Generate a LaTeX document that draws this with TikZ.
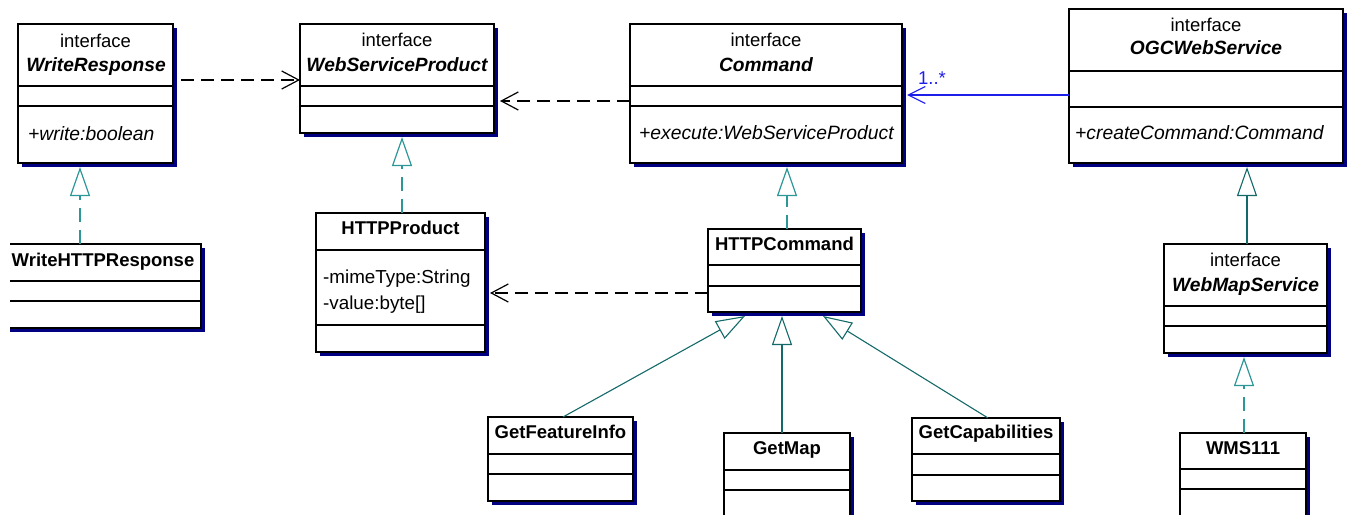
\documentclass[tikz,border=0pt]{standalone}
\usepackage{fontspec}
\setmainfont{Liberation Sans}
\usetikzlibrary{arrows.meta,shadows}

\definecolor{umlnavy}{RGB}{0,0,128}
\definecolor{realteal}{RGB}{45,150,150}
\definecolor{genteal}{RGB}{20,105,105}
\definecolor{assocblue}{RGB}{30,30,235}

\tikzstyle{class_box}=[rectangle,draw=black,fill=white,line width=1.3pt,inner sep=0pt,outer sep=0pt,drop shadow={shadow xshift=4pt,shadow yshift=-4pt,fill=umlnavy,opacity=1}]
\tikzstyle{divider}=[draw=black,line width=1.3pt]
\tikzstyle{stereo_text}=[inner sep=0pt,anchor=base,font=\fontsize{18.5}{22}\selectfont]
\tikzstyle{iface_name}=[inner sep=0pt,anchor=base,font=\fontsize{19.2}{22}\selectfont\bfseries\itshape]
\tikzstyle{class_name}=[inner sep=0pt,anchor=base,font=\fontsize{18.5}{22}\selectfont\bfseries]
\tikzstyle{member_text}=[inner sep=0pt,anchor=base west,font=\fontsize{18.8}{22}\selectfont]
\tikzstyle{op_text}=[inner sep=0pt,anchor=base west,font=\fontsize{19.3}{22}\selectfont\itshape]
\tikzstyle{mult_text}=[inner sep=0pt,anchor=base,text=assocblue,font=\fontsize{18.5}{22}\selectfont]
\tikzstyle{dependency}=[line width=1.2pt,dash pattern=on 13pt off 7pt,-{Straight Barb[length=17pt,width=18pt]}]
\tikzstyle{association}=[line width=1.2pt,draw=assocblue,-{Straight Barb[length=17pt,width=17pt]}]
\tikzstyle{realization}=[line width=1.2pt,draw=realteal,dash pattern=on 14pt off 8pt,-{Triangle[open,length=29pt,width=20pt]}]
\tikzstyle{generalization}=[line width=1.1pt,draw=genteal,-{Triangle[open,length=29pt,width=20pt]}]

\begin{document}
\begin{tikzpicture}[x=1pt,y=-1pt]

\useasboundingbox (0,0) rectangle (1348,514);
\clip (0,0) rectangle (1348,514);

% interfaces
\node [class_box,minimum width=155pt,minimum height=139pt] (writeresponse) at (95.5,93.5) {};
\node [class_box,minimum width=194pt,minimum height=109pt] (webserviceproduct) at (397,78.5) {};
\node [class_box,minimum width=272pt,minimum height=139pt] (command) at (766,93.5) {};
\node [class_box,minimum width=274pt,minimum height=154pt] (ogcwebservice) at (1206,86) {};
\node [class_box,minimum width=163pt,minimum height=109pt] (webmapservice) at (1245.5,298.5) {};

% classes
\node [class_box,minimum width=169pt,minimum height=139pt] (httpproduct) at (400.5,282.5) {};
\node [class_box,minimum width=153pt,minimum height=83pt] (httpcommand) at (784.5,270.5) {};
\node [class_box,minimum width=145pt,minimum height=84pt] (getfeatureinfo) at (560.5,459) {};
\node [class_box,minimum width=126pt,minimum height=107pt] (getmap) at (787,486.5) {};
\node [class_box,minimum width=148pt,minimum height=83pt] (getcapabilities) at (986,459.5) {};
\node [class_box,minimum width=126pt,minimum height=107pt] (wms111) at (1243,486.5) {};

\begin{scope}
\clip (10,230) rectangle (215,340);
\node [class_box,minimum width=198pt,minimum height=84pt] (writehttpresponse) at (102,286) {};
\draw [divider] (writehttpresponse.west |- 0,281) -- (writehttpresponse.east |- 0,281);
\draw [divider] (writehttpresponse.west |- 0,301) -- (writehttpresponse.east |- 0,301);
\end{scope}

% compartments
\draw [divider] (writeresponse.west |- 0,86) -- (writeresponse.east |- 0,86);
\draw [divider] (writeresponse.west |- 0,106) -- (writeresponse.east |- 0,106);
\draw [divider] (webserviceproduct.west |- 0,86) -- (webserviceproduct.east |- 0,86);
\draw [divider] (webserviceproduct.west |- 0,106) -- (webserviceproduct.east |- 0,106);
\draw [divider] (command.west |- 0,86) -- (command.east |- 0,86);
\draw [divider] (command.west |- 0,106) -- (command.east |- 0,106);
\draw [divider] (ogcwebservice.west |- 0,71) -- (ogcwebservice.east |- 0,71);
\draw [divider] (ogcwebservice.west |- 0,107) -- (ogcwebservice.east |- 0,107);
\draw [divider] (webmapservice.west |- 0,306) -- (webmapservice.east |- 0,306);
\draw [divider] (webmapservice.west |- 0,326) -- (webmapservice.east |- 0,326);
\draw [divider] (httpproduct.west |- 0,250) -- (httpproduct.east |- 0,250);
\draw [divider] (httpproduct.west |- 0,325) -- (httpproduct.east |- 0,325);
\draw [divider] (httpcommand.west |- 0,265) -- (httpcommand.east |- 0,265);
\draw [divider] (httpcommand.west |- 0,286) -- (httpcommand.east |- 0,286);
\draw [divider] (getfeatureinfo.west |- 0,454) -- (getfeatureinfo.east |- 0,454);
\draw [divider] (getfeatureinfo.west |- 0,474) -- (getfeatureinfo.east |- 0,474);
\draw [divider] (getmap.west |- 0,470) -- (getmap.east |- 0,470);
\draw [divider] (getmap.west |- 0,490) -- (getmap.east |- 0,490);
\draw [divider] (getcapabilities.west |- 0,454) -- (getcapabilities.east |- 0,454);
\draw [divider] (getcapabilities.west |- 0,475) -- (getcapabilities.east |- 0,475);
\draw [divider] (wms111.west |- 0,469) -- (wms111.east |- 0,469);
\draw [divider] (wms111.west |- 0,489) -- (wms111.east |- 0,489);

% texts
\node [stereo_text] (wr_stereo) at (95.5,47) {interface};
\node [iface_name] (wr_name) at (96,71) {WriteResponse};
\node [op_text] (wr_op) at (28,140) {+write:boolean};
\node [stereo_text] (wsp_stereo) at (397,46) {interface};
\node [iface_name] (wsp_name) at (397,71) {WebServiceProduct};
\node [stereo_text] (cmd_stereo) at (766,46) {interface};
\node [iface_name] (cmd_name) at (766,71) {Command};
\node [op_text] (cmd_op) at (639,139) {+execute:WebServiceProduct};
\node [stereo_text] (ogc_stereo) at (1206,31) {interface};
\node [iface_name] (ogc_name) at (1206,54.5) {OGCWebService};
\node [op_text] (ogc_op) at (1075,139) {+createCommand:Command};
\node [stereo_text] (wms_stereo) at (1245.5,266) {interface};
\node [iface_name] (wms_name) at (1245.5,291) {WebMapService};
\node [class_name] (whr_name) at (103,266) {WriteHTTPResponse};
\node [class_name] (hp_name) at (400.5,234) {HTTPProduct};
\node [member_text] (hp_mime) at (323,283) {-mimeType:String};
\node [member_text] (hp_value) at (323,309) {-value:byte[]};
\node [class_name] (hc_name) at (784.5,250) {HTTPCommand};
\node [class_name] (gfi_name) at (560.5,438) {GetFeatureInfo};
\node [class_name] (gm_name) at (787,454) {GetMap};
\node [class_name] (gc_name) at (986,438) {GetCapabilities};
\node [class_name] (w111_name) at (1243,454) {WMS111};
\node [mult_text] (mult) at (932,84) {1..*};

% dependencies
\draw [dependency] ([xshift=8pt]writeresponse.east |- 0,80) -- (webserviceproduct.west |- 0,80);
\draw [dependency] (command.west |- 0,101) -- ([xshift=6pt]webserviceproduct.east |- 0,101);
\draw [dependency] (httpcommand.west |- 0,293) -- ([xshift=5pt]httpproduct.east |- 0,293);

% association
\draw [association] (ogcwebservice.west |- 0,95) -- ([xshift=5pt]command.east |- 0,95);

% realizations
\draw [realization] (writehttpresponse.north -| 80,0) -- ([yshift=-4pt]writeresponse.south -| 80,0);
\draw [realization] (httpproduct.north -| 402,0) -- ([yshift=-4pt]webserviceproduct.south -| 402,0);
\draw [realization] (httpcommand.north -| 787,0) -- ([yshift=-4pt]command.south -| 787,0);
\draw [realization] (wms111.north -| 1244,0) -- ([yshift=-4pt]webmapservice.south -| 1244,0);

% generalizations
\draw [generalization] (webmapservice.north -| 1247,0) -- ([yshift=-4pt]ogcwebservice.south -| 1247,0);
\draw [generalization] (getfeatureinfo.north -| 563,0) -- ([yshift=-4pt]httpcommand.south -| 745,0);
\draw [generalization] (getmap.north -| 782,0) -- ([yshift=-4pt]httpcommand.south -| 782,0);
\draw [generalization] (getcapabilities.north -| 988,0) -- ([yshift=-4pt]httpcommand.south -| 823,0);

\end{tikzpicture}
\end{document}
